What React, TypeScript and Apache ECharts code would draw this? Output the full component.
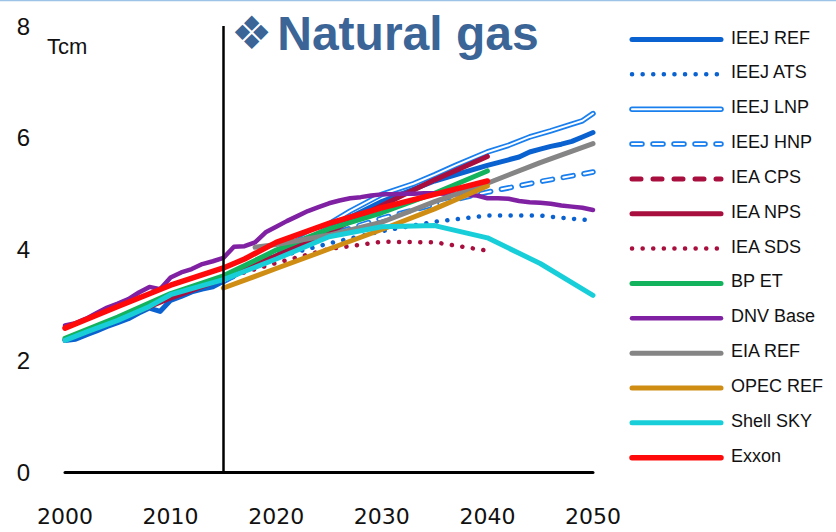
import React, { useEffect, useRef } from 'react';
import * as echarts from 'echarts';

// ---------- DATA ----------
const baseYear = 2015;
const xTicks = [2000, 2010, 2020, 2030, 2040, 2050];
const yTicks = [0, 2, 4, 6, 8];

const ieejHistYears = [2000, 2001, 2002, 2003, 2004, 2005, 2006, 2007, 2008, 2009, 2010, 2011, 2012, 2013, 2014];
const ieejHist = [2.36, 2.38, 2.46, 2.53, 2.61, 2.68, 2.75, 2.85, 2.94, 2.88, 3.08, 3.15, 3.23, 3.28, 3.32];

const ieejRefYears = [2015, 2020, 2025, 2030, 2035, 2040, 2041, 2042, 2043, 2044, 2045, 2046, 2047, 2048, 2049, 2050];
const ieejRef = [3.42, 3.93, 4.38, 4.85, 5.22, 5.50, 5.55, 5.60, 5.65, 5.74, 5.79, 5.84, 5.88, 5.93, 6.01, 6.09];

const ieejAtsYears = [2015, 2020, 2025, 2030, 2035, 2040, 2045, 2047, 2050];
const ieejAts = [3.42, 3.85, 4.10, 4.32, 4.49, 4.60, 4.60, 4.56, 4.51];

const ieejLnpYears = [2015, 2020, 2025, 2027, 2030, 2033, 2035, 2037, 2040, 2042, 2044, 2046, 2048, 2049, 2050];
const ieejLnp = [3.42, 3.95, 4.45, 4.68, 4.98, 5.17, 5.33, 5.50, 5.74, 5.86, 6.01, 6.12, 6.24, 6.30, 6.43];

const ieejHnpYears = [2015, 2020, 2025, 2030, 2035, 2040, 2045, 2050];
const ieejHnp = [3.42, 3.90, 4.25, 4.55, 4.80, 5.02, 5.21, 5.38];

const ieaCpsYears: number[] = [];
const ieaCps: number[] = [];

const ieaNpsYears = [2000, 2005, 2010, 2015, 2020, 2025, 2030, 2035, 2040];
const ieaNps = [2.37, 2.73, 3.12, 3.47, 3.88, 4.30, 4.78, 5.24, 5.66];

const ieaSdsYears = [2015, 2020, 2025, 2030, 2035, 2040];
const ieaSds = [3.47, 3.75, 4.00, 4.13, 4.12, 3.97];

const bpYears = [2000, 2005, 2010, 2015, 2020, 2025, 2030, 2035, 2040];
const bpEt = [2.40, 2.78, 3.20, 3.52, 3.98, 4.36, 4.65, 5.00, 5.40];

const dnvYears = [
  2000, 2001, 2002, 2003, 2004, 2005, 2006, 2007, 2008, 2009, 2010, 2011, 2012, 2013, 2014, 2015, 2016,
  2017, 2018, 2019, 2020, 2021, 2022, 2023, 2024, 2025, 2026, 2027, 2028, 2029, 2030, 2031, 2032, 2033,
  2034, 2035, 2036, 2037, 2038, 2039, 2040, 2041, 2042, 2043, 2044, 2045, 2046, 2047, 2048, 2049, 2050,
];
const dnvBase = [
  2.63, 2.67, 2.75, 2.85, 2.95, 3.02, 3.10, 3.22, 3.32, 3.28, 3.49, 3.58, 3.64, 3.73, 3.78, 3.84, 4.04,
  4.05, 4.12, 4.30, 4.40, 4.50, 4.59, 4.68, 4.75, 4.82, 4.87, 4.91, 4.93, 4.96, 4.98, 4.98, 4.99, 4.99,
  5.00, 5.00, 4.99, 4.98, 4.97, 4.96, 4.91, 4.91, 4.90, 4.86, 4.84, 4.83, 4.81, 4.78, 4.76, 4.74, 4.70,
];

const eiaYears = [2018, 2020, 2025, 2030, 2035, 2040, 2045, 2050];
const eiaRef = [4.03, 4.08, 4.25, 4.48, 4.85, 5.18, 5.55, 5.89];

const opecYears = [2015, 2020, 2025, 2030, 2035, 2040];
const opecRef = [3.30, 3.65, 4.00, 4.35, 4.72, 5.13];

const shellYears = [2000, 2002, 2005, 2008, 2010, 2012, 2015, 2020, 2025, 2030, 2035, 2040, 2045, 2050];
const shellSky = [2.36, 2.51, 2.72, 2.97, 3.18, 3.29, 3.45, 3.82, 4.22, 4.40, 4.42, 4.20, 3.74, 3.17];

const exxonYears = [2000, 2005, 2010, 2015, 2017, 2020, 2025, 2030, 2035, 2040];
const exxon = [2.58, 2.97, 3.35, 3.66, 3.82, 4.12, 4.46, 4.74, 4.98, 5.22];

const legendNames = [
  'IEEJ REF', 'IEEJ ATS', 'IEEJ LNP', 'IEEJ HNP', 'IEA CPS', 'IEA NPS', 'IEA SDS',
  'BP ET', 'DNV Base', 'EIA REF', 'OPEC REF', 'Shell SKY', 'Exxon',
];

// ---------- STYLES ----------
const BLUE = '#0A62D0';
const LBLUE = '#1A7FEE';
const CRIMSON = '#A80F3E';
const DOT = [0.1, 10.5];
const DASH_HOLLOW = [10, 11];
const DASH = [9, 12];

type Sty = { color: string; width: number; type: any; inner?: { width: number; type: any } };
const styles: Record<string, Sty> = {
  'IEEJ REF': { color: BLUE, width: 5, type: 'solid' },
  'IEEJ ATS': { color: BLUE, width: 4.5, type: DOT },
  'IEEJ LNP': { color: LBLUE, width: 5.5, type: 'solid', inner: { width: 2, type: 'solid' } },
  'IEEJ HNP': { color: LBLUE, width: 5.5, type: DASH_HOLLOW, inner: { width: 2, type: DASH_HOLLOW } },
  'IEA CPS': { color: CRIMSON, width: 5, type: DASH },
  'IEA NPS': { color: CRIMSON, width: 5, type: 'solid' },
  'IEA SDS': { color: CRIMSON, width: 4.5, type: DOT },
  'BP ET': { color: '#12B35C', width: 5, type: 'solid' },
  'DNV Base': { color: '#8020A2', width: 4.5, type: 'solid' },
  'EIA REF': { color: '#858585', width: 5, type: 'solid' },
  'OPEC REF': { color: '#D08D14', width: 5, type: 'solid' },
  'Shell SKY': { color: '#18CFD9', width: 5, type: 'solid' },
  'Exxon': { color: '#FF0A0A', width: 5.5, type: 'solid' },
};

const zip = (ys: number[], vs: number[]) => ys.map((y, i) => [y, vs[i]]);

const seriesData: Record<string, number[][]> = {
  'IEEJ REF': zip(ieejHistYears, ieejHist).concat(zip(ieejRefYears, ieejRef)),
  'IEEJ ATS': zip(ieejAtsYears, ieejAts),
  'IEEJ LNP': zip(ieejLnpYears, ieejLnp),
  'IEEJ HNP': zip(ieejHnpYears, ieejHnp),
  'IEA CPS': zip(ieaCpsYears, ieaCps),
  'IEA NPS': zip(ieaNpsYears, ieaNps),
  'IEA SDS': zip(ieaSdsYears, ieaSds),
  'BP ET': zip(bpYears, bpEt),
  'DNV Base': zip(dnvYears, dnvBase),
  'EIA REF': zip(eiaYears, eiaRef),
  'OPEC REF': zip(opecYears, opecRef),
  'Shell SKY': zip(shellYears, shellSky),
  'Exxon': zip(exxonYears, exxon),
};

function buildSeries() {
  const out: any[] = [];
  legendNames.forEach((name, idx) => {
    const s = styles[name];
    const base: any = {
      type: 'line',
      name,
      data: seriesData[name],
      symbol: 'none',
      showSymbol: false,
      silent: true,
      lineStyle: { color: s.color, width: s.width, type: s.type, cap: 'round', join: 'round' },
    };
    if (idx === 0) {
      base.markLine = {
        silent: true,
        symbol: ['none', 'none'],
        label: { show: false },
        lineStyle: { color: '#000', width: 2.5, type: 'solid' },
        data: [{ xAxis: baseYear }],
      };
    }
    out.push(base);
    if (s.inner) {
      out.push({
        type: 'line',
        name: name + ' inner',
        data: seriesData[name],
        symbol: 'none',
        showSymbol: false,
        silent: true,
        lineStyle: { color: '#FFFFFF', width: s.inner.width, type: s.inner.type, cap: 'round', join: 'round' },
      });
    }
  });
  return out;
}

function buildLegend() {
  const els: any[] = [];
  const x1 = 632;
  const x2 = 721;
  legendNames.forEach((name, i) => {
    const y = 39.5 + i * 34.85;
    const s = styles[name];
    const dash = typeof s.type === 'string' ? null : s.type;
    els.push({
      type: 'line',
      silent: true,
      shape: { x1, y1: y, x2, y2: y },
      style: { stroke: s.color, lineWidth: s.width, lineDash: dash, lineCap: 'round' },
    });
    if (s.inner) {
      const d2 = typeof s.inner.type === 'string' ? null : s.inner.type;
      els.push({
        type: 'line',
        silent: true,
        shape: { x1, y1: y, x2, y2: y },
        style: { stroke: '#FFFFFF', lineWidth: s.inner.width, lineDash: d2, lineCap: 'round' },
      });
    }
    els.push({
      type: 'text',
      silent: true,
      x: 731,
      y: y - 2,
      style: {
        text: name,
        fill: '#111',
        font: '18px "Liberation Sans", Arial, sans-serif',
        verticalAlign: 'middle',
      },
    });
  });
  return els;
}

const option: any = {
  animation: false,
  backgroundColor: '#ffffff',
  title: {
    text: '{d|❖} {t|Natural gas}',
    left: 226,
    top: 4,
    textStyle: {
      rich: {
        d: { fontSize: 46, color: '#3B6497', fontFamily: 'DejaVu Sans' },
        t: { fontSize: 48, fontWeight: 'bold', color: '#3B6497', fontFamily: 'Liberation Sans, Arial, sans-serif' },
      },
    },
  },
  grid: { left: 65, right: 243, top: 26, bottom: 60, containLabel: false },
  xAxis: {
    type: 'value',
    min: xTicks[0],
    max: xTicks[xTicks.length - 1],
    interval: 10,
    axisLine: { show: true, lineStyle: { color: '#000', width: 3 } },
    axisTick: { show: false },
    splitLine: { show: false },
    axisLabel: {
      fontSize: 22,
      color: '#111',
      margin: 33,
      fontFamily: 'DejaVu Sans, sans-serif',
      formatter: (v: number) => String(v),
    },
  },
  yAxis: {
    type: 'value',
    min: yTicks[0],
    max: yTicks[yTicks.length - 1],
    interval: 2,
    axisLine: { show: false },
    axisTick: { show: false },
    splitLine: { show: false },
    axisLabel: {
      fontSize: 24,
      color: '#111',
      margin: 35,
      fontFamily: 'Liberation Sans, Arial, sans-serif',
      formatter: (v: number) => String(v),
    },
  },
  graphic: [
    {
      type: 'line',
      silent: true,
      shape: { x1: 0, y1: 0.5, x2: 836, y2: 0.5 },
      style: { stroke: '#9DC3E6', lineWidth: 1.5 },
    },
    {
      type: 'text',
      silent: true,
      x: 47,
      y: 46,
      style: {
        text: 'Tcm',
        fill: '#111',
        font: '22px "Liberation Sans", Arial, sans-serif',
        verticalAlign: 'middle',
      },
    },
    ...buildLegend(),
  ],
  series: buildSeries(),
};

export default function App() {
  const ref = useRef<HTMLDivElement>(null);
  useEffect(() => {
    if (!ref.current) return;
    const chart = echarts.init(ref.current, null, { renderer: 'svg' });
    chart.setOption(option);
    return () => chart.dispose();
  }, []);
  return (
    <div
      ref={ref}
      style={{ position: 'fixed', left: 0, top: 0, width: 836, height: 532, background: '#fff' }}
    />
  );
}
